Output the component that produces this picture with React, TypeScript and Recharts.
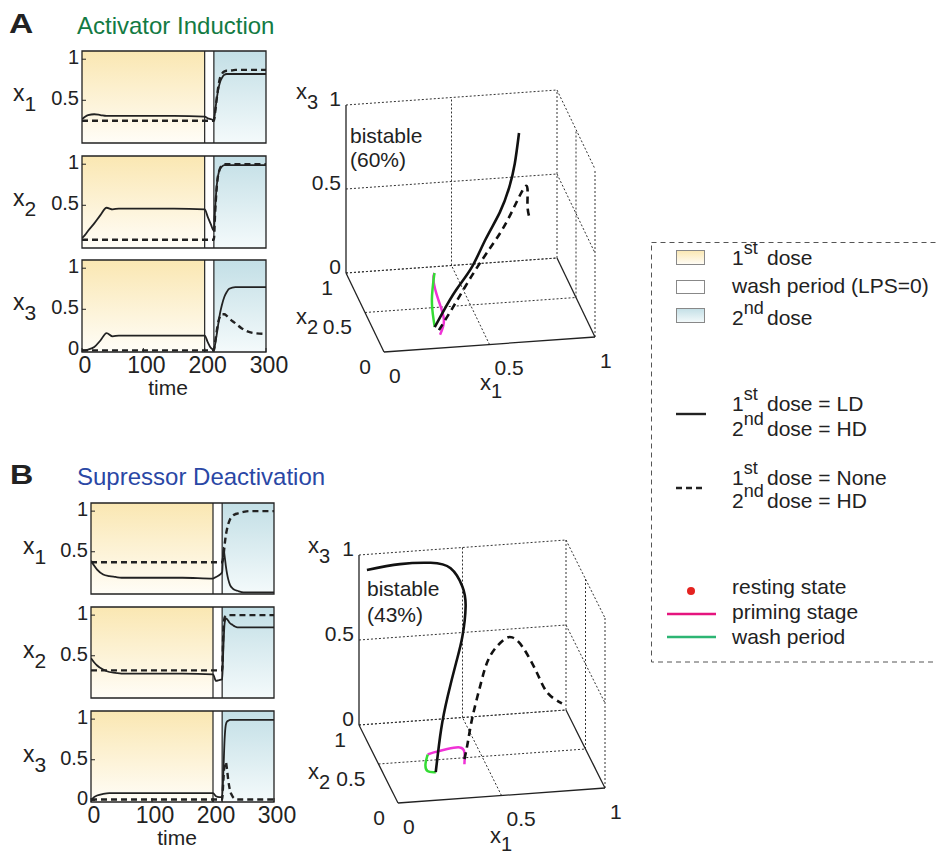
import React from 'react';
import { LineChart, Line, XAxis, YAxis, ReferenceArea, ReferenceLine } from 'recharts';

const FONT = '"Liberation Sans", Arial, sans-serif';
const INK = '#222';

// shared time grid for the time courses
const time = [0, 5, 10, 20, 30, 40, 50, 60, 100, 150, 200, 205, 210, 215, 217, 219, 221, 223, 225, 228, 232, 236, 240, 250, 260, 280, 300];
const timeTicks = [0, 100, 200, 300];
const valueTicks = [0, 0.5, 1];
const YDOM: [number, number] = [-0.02, 1.1];
const dose1: [number, number] = [0, 200];
const washPeriod: [number, number] = [200, 215];
const dose2: [number, number] = [215, 300];

// A - activator induction (LD = 1st dose LD, none = 1st dose none)
const aX1LD = [0.27, 0.3, 0.32, 0.33, 0.32, 0.31, 0.31, 0.31, 0.31, 0.31, 0.3, 0.28, 0.27, 0.26, 0.36, 0.48, 0.58, 0.66, 0.72, 0.77, 0.81, 0.82, 0.82, 0.82, 0.82, 0.82, 0.82];
const aX1None = [0.25, 0.25, 0.25, 0.25, 0.25, 0.25, 0.25, 0.25, 0.25, 0.25, 0.25, 0.25, 0.25, 0.25, 0.35, 0.48, 0.6, 0.7, 0.77, 0.82, 0.85, 0.86, 0.86, 0.87, 0.87, 0.87, 0.87];
const aX2LD = [0.1, 0.14, 0.19, 0.28, 0.38, 0.47, 0.45, 0.46, 0.46, 0.46, 0.45, 0.36, 0.27, 0.19, 0.45, 0.68, 0.82, 0.9, 0.94, 0.97, 0.99, 0.99, 0.99, 0.99, 0.99, 0.99, 0.99];
const aX2None = [0.08, 0.08, 0.08, 0.08, 0.08, 0.08, 0.08, 0.08, 0.08, 0.08, 0.08, 0.08, 0.08, 0.08, 0.4, 0.65, 0.82, 0.9, 0.95, 0.98, 1, 1, 1, 1, 1, 1, 1];
const aX3LD = [0, 0, 0.01, 0.04, 0.12, 0.21, 0.17, 0.18, 0.18, 0.18, 0.18, 0.1, 0.03, 0.01, 0.07, 0.16, 0.26, 0.36, 0.45, 0.55, 0.65, 0.71, 0.75, 0.77, 0.77, 0.77, 0.77];
const aX3None = [0, 0, 0, 0, 0, 0, 0, 0, 0, 0, 0, 0, 0, 0, 0.1, 0.2, 0.3, 0.37, 0.41, 0.44, 0.44, 0.42, 0.39, 0.33, 0.27, 0.21, 0.2];

// B - supressor deactivation
const bX1LD = [0.39, 0.33, 0.28, 0.22, 0.2, 0.19, 0.18, 0.18, 0.18, 0.18, 0.17, 0.19, 0.21, 0.25, 0.55, 0.45, 0.33, 0.23, 0.16, 0.09, 0.05, 0.03, 0.02, 0, 0, 0, 0];
const bX1None = [0.37, 0.37, 0.37, 0.37, 0.37, 0.37, 0.37, 0.37, 0.37, 0.37, 0.37, 0.37, 0.37, 0.37, 0.44, 0.58, 0.7, 0.78, 0.84, 0.9, 0.94, 0.96, 0.97, 0.99, 1, 1, 1];
const bX2LD = [0.47, 0.42, 0.38, 0.33, 0.3, 0.29, 0.28, 0.28, 0.28, 0.28, 0.27, 0.19, 0.2, 0.21, 0.6, 0.9, 0.96, 0.95, 0.93, 0.9, 0.88, 0.86, 0.85, 0.85, 0.85, 0.85, 0.85];
const bX2None = [0.32, 0.32, 0.32, 0.32, 0.32, 0.32, 0.32, 0.32, 0.32, 0.32, 0.32, 0.32, 0.32, 0.32, 0.8, 0.97, 0.99, 1, 1, 1, 1, 1, 1, 1, 1, 1, 1];
const bX3LD = [0, 0.04, 0.06, 0.08, 0.09, 0.09, 0.09, 0.09, 0.09, 0.09, 0.09, 0.05, 0.04, 0.04, 0.35, 0.75, 0.93, 0.97, 0.98, 0.99, 0.99, 0.99, 0.99, 0.99, 0.99, 0.99, 0.99];
const bX3None = [0.01, 0.01, 0.01, 0.01, 0.01, 0.01, 0.01, 0.01, 0.01, 0.01, 0.01, 0.01, 0.01, 0.01, 0.25, 0.45, 0.47, 0.38, 0.25, 0.12, 0.05, 0.02, 0.01, 0.01, 0.01, 0.01, 0.01];

// phase-space trajectories (x1, x2, x3)
const cube = [0, 0.5, 1];
const aLD3 = [[0.28, 0.22, 0.02], [0.33, 0.3, 0.06], [0.44, 0.55, 0.07], [0.55, 0.75, 0.1], [0.64, 0.88, 0.2], [0.72, 0.95, 0.32], [0.77, 0.98, 0.45], [0.8, 1, 0.58], [0.82, 1, 0.76]];
const aNone3 = [[0.3, 0.22, 0], [0.42, 0.5, 0], [0.54, 0.75, 0.03], [0.65, 0.9, 0.11], [0.76, 0.97, 0.26], [0.85, 1, 0.44], [0.86, 1, 0.34], [0.87, 1, 0.25]];
const aPrime3 = [[0.28, 0.08, 0.04], [0.32, 0.2, 0.07], [0.32, 0.35, 0.12], [0.31, 0.42, 0.2], [0.32, 0.45, 0.23]];
const aWash3 = [[0.32, 0.45, 0.23], [0.29, 0.35, 0.12], [0.28, 0.25, 0.05], [0.28, 0.22, 0.02]];

const bLD3 = [[0.22, 0.2, 0.07], [0.34, 0.7, 0.08], [0.41, 0.9, 0.18], [0.46, 0.95, 0.35], [0.49, 0.95, 0.5], [0.5, 0.92, 0.69], [0.48, 0.9, 0.82], [0.42, 0.88, 0.94], [0.32, 0.86, 0.99], [0.17, 0.85, 1], [0.01, 0.85, 0.98]];
const bNone3 = [[0.4, 0.42, 0.03], [0.45, 0.6, 0.04], [0.52, 0.85, 0.07], [0.58, 0.95, 0.22], [0.63, 0.98, 0.36], [0.7, 1, 0.44], [0.74, 1, 0.45], [0.79, 1, 0.39], [0.86, 1, 0.23], [0.91, 1, 0.11], [0.98, 1, 0.04]];
const bPrime3 = [[0.4, 0.42, 0], [0.4, 0.42, 0.07], [0.37, 0.38, 0.12], [0.3, 0.33, 0.14], [0.23, 0.3, 0.14], [0.2, 0.3, 0.13]];
const bWash3 = [[0.2, 0.3, 0.13], [0.18, 0.25, 0.1], [0.18, 0.2, 0.08], [0.22, 0.2, 0.07]];

const MAGENTA = '#f032d6';
const GREEN = '#34dc34';

type Proj = { ox: number; oy: number; e1: number[]; e2: number[]; e3: number[] };
const projA: Proj = { ox: 384, oy: 352, e1: [211, -15], e2: [-38, -79], e3: [0, -168] };
const projB: Proj = { ox: 398, oy: 803, e1: [207, -15], e2: [-39, -78], e3: [0, -170] };

const project = (pr: Proj, p: number[]) => ({
  x: pr.ox + p[0] * pr.e1[0] + p[1] * pr.e2[0] + p[2] * pr.e3[0],
  y: pr.oy + p[0] * pr.e1[1] + p[1] * pr.e2[1] + p[2] * pr.e3[1],
});

function frameSegments(t: number[]) {
  const lo = t[0];
  const hi = t[t.length - 1];
  const solid = [
    [[lo, hi, lo], [lo, hi, hi]],
    [[lo, lo, lo], [lo, hi, lo]],
    [[lo, lo, lo], [hi, lo, lo]],
    [[hi, lo, lo], [hi, hi, lo]],
  ];
  const dotted: number[][][] = [];
  t.forEach((z) => dotted.push([[lo, hi, z], [hi, hi, z]]));
  t.slice(1).forEach((x) => dotted.push([[x, hi, lo], [x, hi, hi]]));
  t.slice(1).forEach((z) => dotted.push([[hi, hi, z], [hi, lo, z]]));
  t.slice(0, -1).forEach((y) => dotted.push([[hi, y, lo], [hi, y, hi]]));
  t.slice(1).forEach((y) => dotted.push([[lo, y, lo], [hi, y, lo]]));
  t.slice(1, -1).forEach((x) => dotted.push([[x, lo, lo], [x, hi, lo]]));
  return { solid, dotted };
}

function SmallPlot({ left, top, w, h, ld, none, showX }: { left: number; top: number; w: number; h: number; ld: number[]; none: number[]; showX: boolean }) {
  const rows = time.map((t, i) => ({ t, ld: ld[i], none: none[i] }));
  const padL = 60, padT = 8, padR = 26, padB = 4;
  const xH = showX ? 34 : 0;
  return (
    <div style={{ position: 'absolute', left: left - padL, top: top - padT }}>
      <LineChart width={padL + w + padR} height={padT + h + xH + padB} data={rows}
        margin={{ top: padT, right: padR, bottom: padB, left: 0 }}>
        <XAxis dataKey="t" type="number" domain={[0, 300]} ticks={timeTicks} allowDataOverflow
          height={xH} tick={showX ? { fontSize: 23, fill: INK, fontFamily: FONT, dx: 3 } : false}
          tickSize={-4} tickMargin={9} axisLine={false} tickLine={{ stroke: INK }} />
        <YAxis type="number" domain={YDOM} ticks={valueTicks} allowDataOverflow width={padL}
          tick={{ fontSize: 20, fill: INK, fontFamily: FONT, dy: -2 }} tickSize={-4} tickMargin={7}
          axisLine={false} tickLine={{ stroke: INK }} />
        <ReferenceArea x1={dose1[0]} x2={dose1[1]} y1={YDOM[0]} y2={YDOM[1]} fill="url(#dose1)" fillOpacity={1} stroke="none" />
        <ReferenceArea x1={washPeriod[0]} x2={washPeriod[1]} y1={YDOM[0]} y2={YDOM[1]} fill="#fff" fillOpacity={1} stroke="none" />
        <ReferenceArea x1={dose2[0]} x2={dose2[1]} y1={YDOM[0]} y2={YDOM[1]} fill="url(#dose2)" fillOpacity={1} stroke="none" />
        <ReferenceLine x={washPeriod[0]} stroke={INK} strokeWidth={1.2} />
        <ReferenceLine x={washPeriod[1]} stroke={INK} strokeWidth={1.2} />
        <Line dataKey="none" type="monotone" stroke={INK} strokeWidth={2.4} strokeDasharray="6 4" dot={false} isAnimationActive={false} />
        <Line dataKey="ld" type="monotone" stroke={INK} strokeWidth={1.8} dot={false} isAnimationActive={false} />
        <ReferenceArea x1={0} x2={300} y1={YDOM[0]} y2={YDOM[1]} fill="none" stroke={INK} strokeWidth={1.3} />
      </LineChart>
    </div>
  );
}

function Phase3D({ left, top, w, h, proj, ld, none, priming, wash }: { left: number; top: number; w: number; h: number; proj: Proj; ld: number[][]; none: number[][]; priming: number[][]; wash: number[][] }) {
  const toData = (p: number[]) => {
    const s = project(proj, p);
    return { px: s.x - left, py: s.y - top };
  };
  const { solid, dotted } = frameSegments(cube);
  const traj = (pts: number[][], color: string, width: number, dash?: string) => (
    <Line data={pts.map(toData)} dataKey="py" type="natural" stroke={color} strokeWidth={width}
      strokeDasharray={dash} dot={false} isAnimationActive={false} />
  );
  return (
    <div style={{ position: 'absolute', left, top }}>
      <LineChart width={w} height={h} margin={{ top: 0, right: 0, bottom: 0, left: 0 }}>
        <XAxis dataKey="px" type="number" domain={[0, w]} hide allowDataOverflow />
        <YAxis type="number" domain={[0, h]} reversed hide allowDataOverflow />
        {dotted.map((seg, i) => (
          <Line key={'d' + i} data={seg.map(toData)} dataKey="py" type="linear" stroke="#333" strokeWidth={1}
            strokeDasharray="2 2" dot={false} isAnimationActive={false} />
        ))}
        {solid.map((seg, i) => (
          <Line key={'s' + i} data={seg.map(toData)} dataKey="py" type="linear" stroke={INK} strokeWidth={1.3}
            dot={false} isAnimationActive={false} />
        ))}
        {traj(priming, MAGENTA, 2.5)}
        {traj(wash, GREEN, 2.5)}
        {traj(none, '#111', 2.6, '7 5')}
        {traj(ld, '#111', 2.6)}
      </LineChart>
    </div>
  );
}

function XLabel({ x, y, n, size = 22, dy = 10 }: { x: number; y: number; n: string; size?: number; dy?: number }) {
  return (
    <text x={x} y={y} fontSize={size} fill={INK}>
      x<tspan dy={dy} fontSize={size - 2}>{n}</tspan>
    </text>
  );
}

function AxisLabels3D({ proj, ax }: { proj: Proj; ax: { x1: number[]; x2: number[]; x3: number[] } }) {
  const fmt = (v: number) => String(v);
  return (
    <g fontSize={21} fill={INK}>
      {cube.map((v) => {
        const s = project(proj, [0, 1, v]);
        return <text key={'z' + v} x={s.x - 5} y={s.y - 7} textAnchor="end" dominantBaseline="central">{fmt(v)}</text>;
      })}
      {cube.map((v) => {
        const s = project(proj, [0, v, 0]);
        return <text key={'y' + v} x={s.x - 13} y={s.y + 14} textAnchor="end" dominantBaseline="central">{fmt(v)}</text>;
      })}
      {cube.map((v) => {
        const s = project(proj, [v, 0, 0]);
        return <text key={'x' + v} x={s.x + 5} y={s.y + 23} textAnchor="start" dominantBaseline="central">{fmt(v)}</text>;
      })}
      <XLabel x={ax.x3[0]} y={ax.x3[1]} n="3" />
      <XLabel x={ax.x2[0]} y={ax.x2[1]} n="2" />
      <XLabel x={ax.x1[0]} y={ax.x1[1]} n="1" dy={8} />
    </g>
  );
}

function Sup({ x, y, a, s, rest }: { x: number; y: number; a: string; s: string; rest: string }) {
  return (
    <g>
      <text x={x} y={y}>{a}<tspan dy={-11} fontSize={18}>{s}</tspan></text>
      <text x={x + 35} y={y}>{rest}</text>
    </g>
  );
}

export default function App() {
  const aPlots = [
    { ld: aX1LD, none: aX1None, top: 51, n: '1' },
    { ld: aX2LD, none: aX2None, top: 156, n: '2' },
    { ld: aX3LD, none: aX3None, top: 260, n: '3' },
  ];
  const bPlots = [
    { ld: bX1LD, none: bX1None, top: 503, n: '1' },
    { ld: bX2LD, none: bX2None, top: 607, n: '2' },
    { ld: bX3LD, none: bX3None, top: 711, n: '3' },
  ];
  return (
    <div style={{ position: 'absolute', left: 0, top: 0, width: 937, height: 858, background: '#fff', fontFamily: FONT, overflow: 'hidden' }}>
      <svg width={0} height={0} style={{ position: 'absolute' }}>
        <defs>
          <linearGradient id="dose1" x1="0" y1="0" x2="0" y2="1">
            <stop offset="0" stopColor="#fae7b2" />
            <stop offset="1" stopColor="#fffdf7" />
          </linearGradient>
          <linearGradient id="dose2" x1="0" y1="0" x2="0" y2="1">
            <stop offset="0" stopColor="#c3dfe6" />
            <stop offset="1" stopColor="#f4fafb" />
          </linearGradient>
        </defs>
      </svg>

      {aPlots.map((p, i) => (
        <SmallPlot key={'a' + i} left={82} top={p.top} w={184} h={92} ld={p.ld} none={p.none} showX={i === 2} />
      ))}
      {bPlots.map((p, i) => (
        <SmallPlot key={'b' + i} left={91} top={p.top} w={183} h={91} ld={p.ld} none={p.none} showX={i === 2} />
      ))}

      <Phase3D left={280} top={60} w={360} h={330} proj={projA} ld={aLD3} none={aNone3} priming={aPrime3} wash={aWash3} />
      <Phase3D left={290} top={520} w={350} h={320} proj={projB} ld={bLD3} none={bNone3} priming={bPrime3} wash={bWash3} />

      <svg width={937} height={858} style={{ position: 'absolute', left: 0, top: 0, pointerEvents: 'none' }} fontFamily={FONT}>
        <text x={9} y={33} fontSize={28} fontWeight="bold" fill={INK} transform="translate(9 33) scale(1.2 1) translate(-9 -33)">A</text>
        <text x={77} y={34} fontSize={24} fill="#137a43">Activator Induction</text>
        <text x={10} y={484} fontSize={28} fontWeight="bold" fill={INK} transform="translate(10 484) scale(1.15 1) translate(-10 -484)">B</text>
        <text x={77} y={485} fontSize={24} fill="#2a47a5">Supressor Deactivation</text>

        {aPlots.map((p) => (
          <XLabel key={'al' + p.n} x={13} y={p.top + 46 + 4} n={p.n} size={23} />
        ))}
        {bPlots.map((p) => (
          <XLabel key={'bl' + p.n} x={23} y={p.top + 45 + 6} n={p.n} size={23} />
        ))}
        <text x={168} y={395} fontSize={21} fill={INK} textAnchor="middle">time</text>
        <text x={177} y={845} fontSize={21} fill={INK} textAnchor="middle">time</text>

        <AxisLabels3D proj={projA} ax={{ x3: [296, 99], x2: [296, 324], x1: [480, 390] }} />
        <AxisLabels3D proj={projB} ax={{ x3: [308, 553], x2: [308, 779], x1: [490, 843] }} />
        <text x={350} y={143} fontSize={21} fill={INK}>bistable</text>
        <text x={350} y={167} fontSize={21} fill={INK}>(60%)</text>
        <text x={367} y={596} fontSize={21} fill={INK}>bistable</text>
        <text x={367} y={622} fontSize={21} fill={INK}>(43%)</text>

        {/* legend */}
        <rect x={651.5} y={242.5} width={300} height={419.5} fill="none" stroke="#555" strokeDasharray="5 4" />
        <rect x={676.5} y={250.5} width={28} height={14} fill="url(#dose1)" stroke="#888" />
        <rect x={676.5} y={280.5} width={28} height={13} fill="#fff" stroke="#888" />
        <rect x={676.5} y={308.5} width={28} height={14} fill="url(#dose2)" stroke="#888" />
        <line x1={676} x2={706} y1={414} y2={414} stroke={INK} strokeWidth={2.4} />
        <line x1={676} x2={704} y1={488} y2={488} stroke={INK} strokeWidth={2.4} strokeDasharray="6 4" />
        <circle cx={691} cy={591} r={4} fill="#e42320" />
        <line x1={667} x2={716} y1={614} y2={614} stroke="#e5147e" strokeWidth={2.6} />
        <line x1={667} x2={716} y1={637} y2={637} stroke="#2cb573" strokeWidth={2.6} />
        <g fontSize={21} fill={INK}>
          <Sup x={732} y={265} a="1" s="st" rest="dose" />
          <text x={732} y={293}>wash period (LPS=0)</text>
          <Sup x={732} y={325} a="2" s="nd" rest="dose" />
          <Sup x={732} y={411} a="1" s="st" rest="dose = LD" />
          <Sup x={732} y={436} a="2" s="nd" rest="dose = HD" />
          <Sup x={732} y={485} a="1" s="st" rest="dose = None" />
          <Sup x={732} y={508} a="2" s="nd" rest="dose = HD" />
          <text x={732} y={594}>resting state</text>
          <text x={732} y={619}>priming stage</text>
          <text x={732} y={644}>wash period</text>
        </g>
      </svg>
    </div>
  );
}
